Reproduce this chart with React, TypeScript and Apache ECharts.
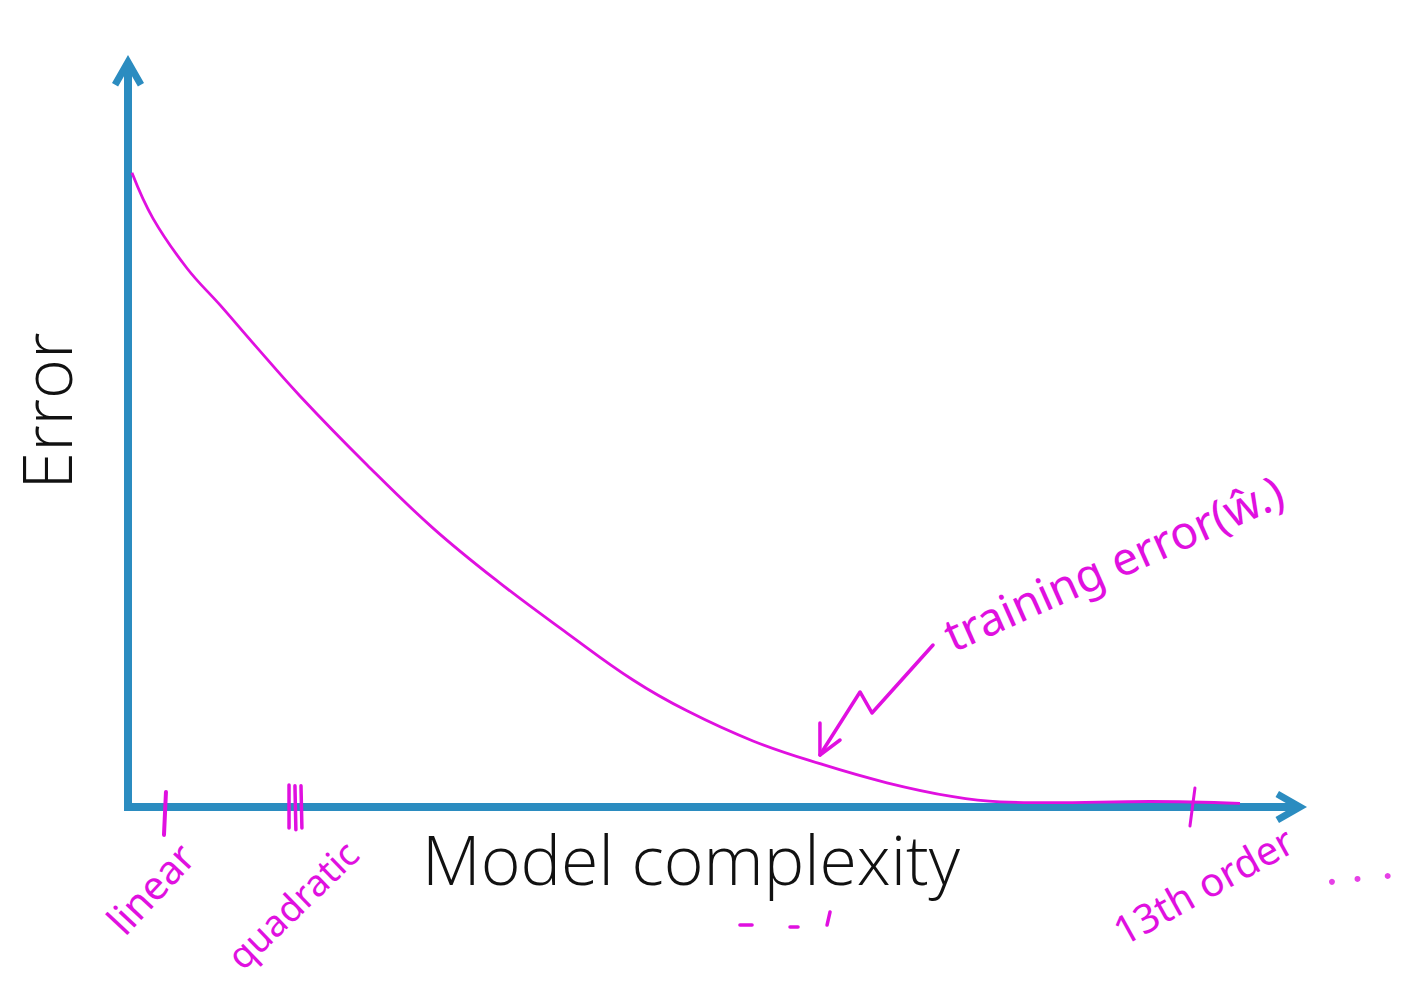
import React, { useEffect, useRef } from "react";
import * as echarts from "echarts";

// Training-error curve (axis units 0..100 on both axes)
const complexity = [0.34, 2.15, 5.08, 7.92, 10.77, 14.81, 20.59, 26.27, 32.04, 37.81, 43.50, 48.15, 53.83, 59.60, 65.37, 71.06, 75.11, 79.41, 88.03, 95.78];
const trainingError = [86.4, 80.2, 73.4, 68.4, 63.2, 56.0, 46.6, 38.0, 30.5, 23.7, 17.3, 13.1, 9.0, 5.9, 3.3, 1.4, 0.7, 0.6, 0.75, 0.5];

// Hand-drawn tick strokes on the x axis
const linearTick = [[3.27, 2.04], [3.1, -3.81]];
const quadraticTick1 = [[13.87, 3.0], [13.87, -2.86]];
const quadraticTick2 = [[14.38, 2.9], [14.46, -3.1]];
const quadraticTick3 = [[14.9, 2.9], [14.98, -2.86]];
const orderTick = [[91.9, 2.59], [91.47, -2.59]];

// Annotation arrow pointing at the curve
const arrowShaft = [[69.34, 22.07], [64.08, 12.81], [63.05, 15.67], [59.6, 7.08]];
const arrowHead = [[59.6, 11.44], [59.6, 7.08], [61.33, 9.13]];

// Small marks under the axis title and trailing dots
const dash1 = [[52.71, -16.08], [53.75, -16.08]];
const dash2 = [[57.02, -16.35], [57.71, -16.35]];
const dash3 = [[60.47, -14.3], [60.21, -16.08]];
const trailingDots = [[103.7, -10.2], [105.9, -9.8], [108.5, -9.4]];

const xTitle = "Model complexity";
const yTitle = "Error";
const labelLinear = "linear";
const labelQuadratic = "quadratic";
const label13th = "13th order";
const labelCurve = "training error(ŵ.)";

const AXIS = "#2b8cc0";
const INK = "#e010e0";
const ARROW_PATH =
  "path://M16,0 L32,28 L25.9,31.5 L20,21.2 L20,36 L12,36 L12,21.2 L6.1,31.5 L0,28 Z";

function stroke(data: number[][], width = 3) {
  return {
    type: "line",
    data,
    clip: false,
    showSymbol: false,
    symbol: "none",
    silent: true,
    lineStyle: { color: INK, width, cap: "round", join: "round" },
    z: 5,
  };
}

export default function App() {
  const ref = useRef<HTMLDivElement>(null);
  useEffect(() => {
    const chart = echarts.init(ref.current!, null, { renderer: "svg" });
    const axisCommon = {
      type: "value",
      min: 0,
      max: 100,
      axisLabel: { show: false },
      axisTick: { show: false },
      splitLine: { show: false },
      axisLine: {
        show: true,
        symbol: ["none", ARROW_PATH],
        symbolSize: [32, 36],
        lineStyle: { color: AXIS, width: 8, cap: "square" },
      },
    };
    const hand = "'Noto Sans', sans-serif";
    const title = "300 68px 'Open Sans', Lato, sans-serif";
    chart.setOption({
      animation: false,
      backgroundColor: "#ffffff",
      grid: { left: 128, top: 73, right: 133, bottom: 177 },
      xAxis: { ...axisCommon },
      yAxis: { ...axisCommon },
      series: [
        {
          type: "line",
          data: complexity.map((c, i) => [c, trainingError[i]]),
          smooth: 0.4,
          showSymbol: false,
          symbol: "none",
          clip: false,
          lineStyle: { color: INK, width: 2.8 },
          z: 4,
        },
        stroke(linearTick, 4),
        stroke(quadraticTick1, 3.5),
        stroke(quadraticTick2, 3.5),
        stroke(quadraticTick3, 3.5),
        stroke(orderTick, 3),
        stroke(arrowShaft, 3.5),
        stroke(arrowHead, 3.5),
        stroke(dash1, 3.5),
        stroke(dash2, 3.5),
        stroke(dash3, 3.5),
        {
          type: "scatter",
          data: trailingDots,
          clip: false,
          symbolSize: 6,
          itemStyle: { color: INK },
          silent: true,
        },
      ],
      graphic: [
        {
          type: "text",
          x: 691,
          y: 858,
          style: { text: xTitle, fill: "#111111", font: title, align: "center", verticalAlign: "middle" },
        },
        {
          type: "text",
          x: 45,
          y: 411,
          rotation: Math.PI / 2,
          style: { text: yTitle, fill: "#111111", font: title, align: "center", verticalAlign: "middle" },
        },
        {
          type: "text",
          x: 150,
          y: 888,
          rotation: (47 * Math.PI) / 180,
          style: { text: labelLinear, fill: INK, font: `400 40px ${hand}`, align: "center", verticalAlign: "middle" },
        },
        {
          type: "text",
          x: 292,
          y: 904,
          rotation: (44 * Math.PI) / 180,
          style: { text: labelQuadratic, fill: INK, font: `400 37px ${hand}`, align: "center", verticalAlign: "middle" },
        },
        {
          type: "text",
          x: 1203,
          y: 885,
          rotation: (29 * Math.PI) / 180,
          style: { text: label13th, fill: INK, font: `400 40px ${hand}`, align: "center", verticalAlign: "middle" },
        },
        {
          type: "text",
          x: 1113,
          y: 562,
          rotation: (24 * Math.PI) / 180,
          style: { text: labelCurve, fill: INK, font: `400 46px ${hand}`, align: "center", verticalAlign: "middle" },
        },
      ],
    });
    return () => chart.dispose();
  }, []);
  return (
    <div
      ref={ref}
      style={{ position: "absolute", left: 0, top: 0, width: 1422, height: 984 }}
    />
  );
}
